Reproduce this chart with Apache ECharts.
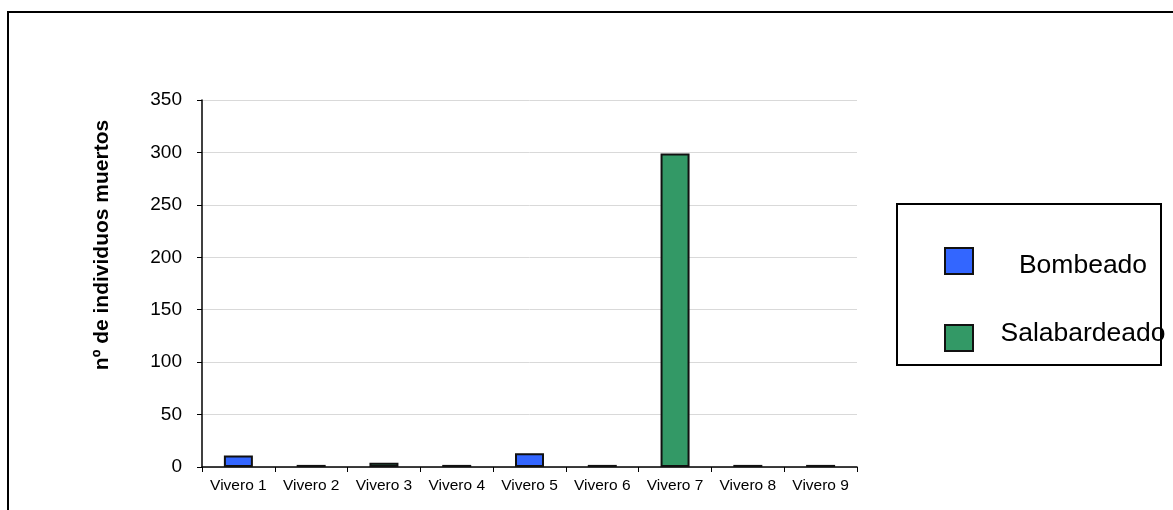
<!DOCTYPE html>
<html>
<head>
<meta charset="utf-8">
<script src="https://cdn.jsdelivr.net/npm/echarts@6/dist/echarts.min.js"></script>
<style>
  html, body { margin: 0; padding: 0; background: #fff; }
  #chart { width: 1173px; height: 510px; }
</style>
</head>
<body>
<div id="chart"></div>
<script>
// Nurseries along the x axis
const categories = ['Vivero 1', 'Vivero 2', 'Vivero 3', 'Vivero 4', 'Vivero 5', 'Vivero 6', 'Vivero 7', 'Vivero 8', 'Vivero 9'];
// Dead individuals per nursery, by harvesting method (null = not applied)
const bombeado = [11, 2, null, 2, 13, 2, null, 2, 2];
const salabardeado = [null, null, 4, null, null, null, 299, null, null];
// Value axis ticks
const yTicks = [0, 50, 100, 150, 200, 250, 300, 350];
const yTitle = 'nº de individuos muertos';

const FONT = '"Liberation Sans", Arial, sans-serif';
const chart = echarts.init(document.getElementById('chart'), null, { renderer: 'canvas' });

chart.setOption({
  backgroundColor: '#ffffff',
  animation: false,
  textStyle: { fontFamily: FONT, color: '#000' },
  grid: { left: 202, right: 316, top: 100, bottom: 43 },
  graphic: [
    // outer frame
    { type: 'rect', shape: { x: 8, y: 12, width: 1200, height: 600 },
      style: { fill: 'none', stroke: '#000', lineWidth: 2 }, z: 0 },
    // legend frame
    { type: 'rect', shape: { x: 897, y: 204, width: 264, height: 161 },
      style: { fill: 'none', stroke: '#000', lineWidth: 2 }, z: 0 },
    // value axis title
    { type: 'text', x: 102, y: 245, rotation: Math.PI / 2,
      style: { text: yTitle, fontSize: 21, fontWeight: 'bold', fontFamily: FONT, fill: '#000',
               textAlign: 'center', textVerticalAlign: 'middle' }, z: 10 }
  ],
  legend: {
    orient: 'vertical',
    left: 944, top: 247,
    padding: 0,
    itemWidth: 28, itemHeight: 26,
    itemGap: 41,
    icon: 'rect',
    data: [
      { name: 'Bombeado', textStyle: { rich: { t: { padding: [10, 0, 0, 0] } } } },
      { name: 'Salabardeado', textStyle: { rich: { t: { padding: [0, 0, 8, 0] } } } }
    ],
    formatter: '{t|{name}}',
    textStyle: {
      fontFamily: FONT, color: '#000',
      rich: { t: { width: 210, align: 'center', fontSize: 26.5, fontFamily: FONT, color: '#000' } }
    }
  },
  xAxis: {
    type: 'category',
    data: categories,
    boundaryGap: true,
    axisLine: { lineStyle: { color: '#000', width: 1.5 } },
    axisTick: { show: true, length: 5, lineStyle: { color: '#000' } },
    axisLabel: { fontSize: 15.5, margin: 11, color: '#000', fontFamily: FONT, interval: 0 },
    splitLine: { show: false }
  },
  yAxis: {
    type: 'value',
    min: yTicks[0], max: yTicks[yTicks.length - 1], interval: 50,
    axisLine: { show: true, lineStyle: { color: '#000', width: 1.5 } },
    axisTick: { show: true, inside: false, length: 5, lineStyle: { color: '#000' } },
    axisLabel: { fontSize: 19, margin: 20, color: '#000', fontFamily: FONT },
    splitLine: { show: true, lineStyle: { color: '#d9d9d9', width: 1 } }
  },
  series: [
    {
      name: 'Bombeado', type: 'bar', stack: 'total',
      data: bombeado, barWidth: 29,
      itemStyle: { color: '#3366ff', borderColor: '#111', borderWidth: 2 }
    },
    {
      name: 'Salabardeado', type: 'bar', stack: 'total',
      data: salabardeado, barWidth: 29,
      itemStyle: { color: '#339966', borderColor: '#111', borderWidth: 2 }
    }
  ]
});
</script>
</body>
</html>
